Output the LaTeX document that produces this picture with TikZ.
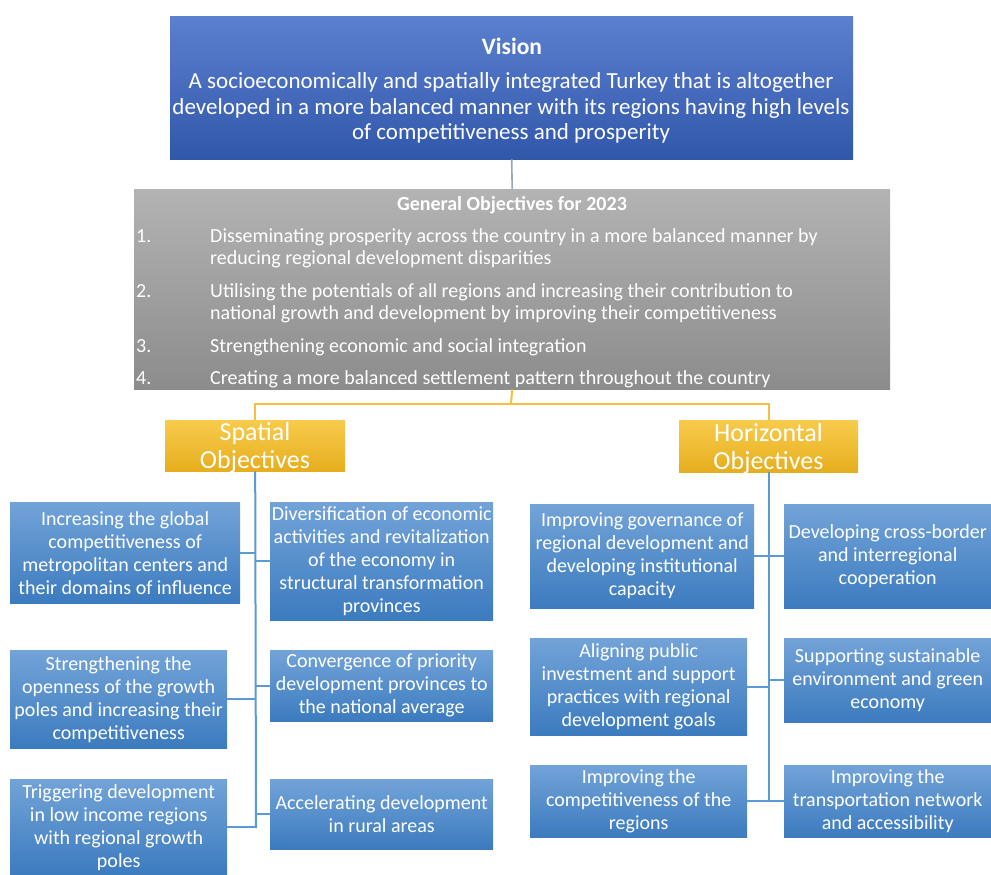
\documentclass[tikz,border=0pt]{standalone}
\usepackage{fontspec}
\setmainfont{Carlito}
\definecolor{visT}{HTML}{5C80CF}
\definecolor{visB}{HTML}{3157AB}
\definecolor{gryT}{HTML}{B3B3B3}
\definecolor{gryB}{HTML}{8C8C8C}
\definecolor{yelT}{HTML}{F8CB4C}
\definecolor{yelB}{HTML}{E6AE1E}
\definecolor{bluT}{HTML}{72A3D8}
\definecolor{bluB}{HTML}{3C7BBF}
\definecolor{bline}{HTML}{5B9BD5}
\definecolor{yline}{HTML}{F5C040}
\definecolor{gline}{HTML}{9AA6B6}
\begin{document}
\begin{tikzpicture}[x=1pt,y=-1pt,
  box/.style={anchor=north west,inner sep=0pt,text=white,align=center,shading angle=0},
  visbox/.style={box,top color=visT,bottom color=visB},
  grybox/.style={box,top color=gryT,bottom color=gryB},
  yelbox/.style={box,top color=yelT,bottom color=yelB},
  yeltxt/.style={anchor=center,inner sep=0pt,text=white,align=center,font=\fontsize{26}{28}\selectfont},
  blubox/.style={box,top color=bluT,bottom color=bluB,font=\fontsize{20}{23}\selectfont},
  itemtxt/.style={anchor=base west,inner sep=0pt,text=white,align=left,font=\fontsize{20}{22.5}\selectfont},
  bconn/.style={draw=bline,line width=2pt},
  yconn/.style={draw=yline,line width=2pt},
  gconn/.style={draw=gline,line width=1.6pt}]
\useasboundingbox[fill=white] (0,0) rectangle (991,875);

% Vision
\node[visbox,minimum width=683,minimum height=143] (vis) at (170,16) {};
\node[text=white,font=\fontsize{23.5}{25}\selectfont\bfseries,anchor=center] (vist) at (512,46) {Vision};
\node[text=white,font=\fontsize{23}{25.5}\selectfont,align=center,anchor=center] (visx) at (511,108)
 {A socioeconomically and spatially integrated Turkey that is altogether\\developed in a more balanced manner with its regions having high levels\\of competitiveness and prosperity};

% General objectives
\node[grybox,minimum width=756,minimum height=200] (gen) at (134,189) {};
\node[text=white,font=\fontsize{20}{22}\selectfont\bfseries,anchor=center] (gent) at (512,205) {General Objectives for 2023};
\node[itemtxt] (n1) at (136,242) {1.};
\node[itemtxt] (i1) at (210,264.5) {Disseminating prosperity across the country in a more balanced manner by\\reducing regional development disparities};
\node[itemtxt] (n2) at (136,297) {2.};
\node[itemtxt] (i2) at (210,319.5) {Utilising the potentials of all regions and increasing their contribution to\\national growth and development by improving their competitiveness};
\node[itemtxt] (n3) at (136,352) {3.};
\node[itemtxt] (i3) at (210,352) {Strengthening economic and social integration};
\node[itemtxt] (n4) at (136,384) {4.};
\node[itemtxt] (i4) at (210,384) {Creating a more balanced settlement pattern throughout the country};

\draw[gconn] (vis.south) -- (gen.north);

% Spatial / Horizontal
\node[yelbox,minimum width=180,minimum height=51] (sp) at (165,420) {};
\node[yeltxt] (spt) at (255,448) {Spatial\\Objectives};
\node[yelbox,minimum width=179,minimum height=52] (ho) at (679,420) {};
\node[yeltxt] (hot) at (768.5,449) {Horizontal\\Objectives};
\coordinate (ymid) at (511,404);
\draw[yconn] (gen.south) -- (ymid);
\draw[yconn] (sp.north) |- (ymid) -| (ho.north);

% Spatial children
\node[blubox,minimum width=230,minimum height=101] (s1) at (10,502) {Increasing the global\\competitiveness of\\metropolitan centers and\\their domains of influence};
\node[blubox,minimum width=223,minimum height=118] (s2) at (270,502) {Diversification of economic\\activities and revitalization\\of the economy in\\structural transformation\\provinces};
\node[blubox,minimum width=217,minimum height=98] (s3) at (10,650) {Strengthening the\\openness of the growth\\poles and increasing their\\competitiveness};
\node[blubox,minimum width=223,minimum height=71] (s4) at (270,650) {Convergence of priority\\development provinces to\\the national average};
\node[blubox,minimum width=217,minimum height=96] (s5) at (10,779) {Triggering development\\in low income regions\\with regional growth\\poles};
\node[blubox,minimum width=223,minimum height=70] (s6) at (270,779) {Accelerating development\\in rural areas};
\coordinate (spend) at (256,828);
\draw[bconn] (sp.south) -- (spend);
\foreach \n in {s1,s3,s5} \draw[bconn] (\n.east) -- (\n.east -| sp.south);
\foreach \n in {s2,s4,s6} \draw[bconn] (\n.west) -- (\n.west -| sp.south);

% Horizontal children
\node[blubox,minimum width=224,minimum height=104] (h1) at (530,504) {Improving governance of\\regional development and\\developing institutional\\capacity};
\node[blubox,minimum width=207,minimum height=104] (h2) at (784,504) {Developing cross-border\\and interregional\\cooperation};
\node[blubox,minimum width=217,minimum height=97] (h3) at (530,638) {Aligning public\\investment and support\\practices with regional\\development goals};
\node[blubox,minimum width=207,minimum height=84] (h4) at (784,638) {Supporting sustainable\\environment and green\\economy};
\node[blubox,minimum width=217,minimum height=72] (h5) at (530,765) {Improving the\\competitiveness of the\\regions};
\node[blubox,minimum width=207,minimum height=72] (h6) at (784,765) {Improving the\\transportation network\\and accessibility};
\coordinate (hoend) at (768,801);
\draw[bconn] (ho.south) -- (ho.south |- hoend);
\foreach \n in {h1,h3,h5} \draw[bconn] (\n.east) -- (\n.east -| ho.south);
\foreach \n in {h2,h4,h6} \draw[bconn] (\n.west) -- (\n.west -| ho.south);
\end{tikzpicture}
\end{document}
